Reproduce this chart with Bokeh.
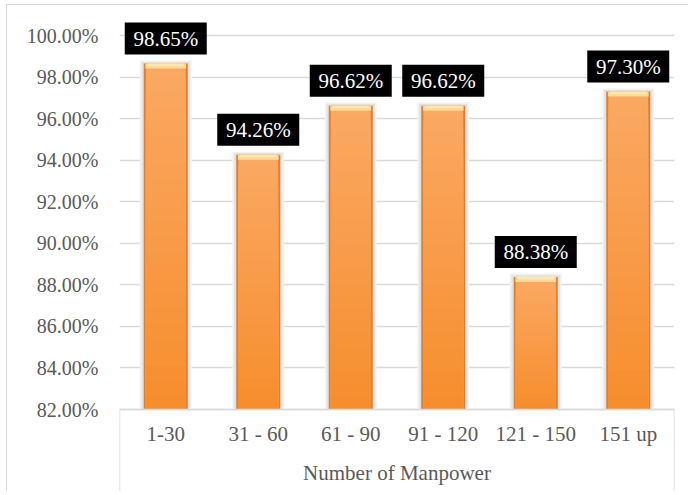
from bokeh.plotting import figure
from bokeh.models import (FactorRange, Range1d, ColumnDataSource, FixedTicker,
                          NumeralTickFormatter, LabelSet)
from bokeh.embed import file_html
from bokeh.resources import INLINE

# ---- data ----
group_name = "Number of Manpower"
categories = ["1-30", "31 - 60", "61 - 90", "91 - 120", "121 - 150", "151 up"]
values = [0.9865, 0.9426, 0.9662, 0.9662, 0.8838, 0.9730]
y_ticks = [0.82, 0.84, 0.86, 0.88, 0.90, 0.92, 0.94, 0.96, 0.98, 1.00]
y_min, y_max = 0.82, 1.00

FONT = "Liberation Serif"
GREY = "#D9D9D9"
factors = [(group_name, c) for c in categories]

PX = 374 / (y_max - y_min)          # pixels per unit on the value axis
ext_top = 30 / PX                   # room above 100% for the data labels
ext_bot = 83 / PX                   # room below 82% for the category axis

p = figure(width=682, height=487, output_backend="svg", toolbar_location=None,
           x_range=FactorRange(factors=factors, range_padding=0, factor_padding=0,
                               group_padding=0),
           y_range=Range1d(y_min - ext_bot, y_max + ext_top),
           min_border_left=112, min_border_right=15, min_border_top=0,
           min_border_bottom=0)
p.styles = {"margin-left": "6px", "margin-top": "4px",
            "border-left": "1.5px solid " + GREY, "border-top": "1.5px solid " + GREY}
p.outline_line_color = None
p.background_fill_color = "white"
p.border_fill_color = "white"

# grid / value axis
p.xgrid.grid_line_color = None
p.ygrid.grid_line_color = GREY
p.ygrid.grid_line_width = 1.3
p.yaxis.ticker = FixedTicker(ticks=y_ticks)
p.yaxis.formatter = NumeralTickFormatter(format="0.00%")
p.yaxis.axis_line_color = None
p.yaxis.major_tick_line_color = None
p.yaxis.minor_tick_line_color = None
p.yaxis.major_tick_out = 0
p.yaxis.major_label_standoff = 21
p.yaxis.major_label_text_font = FONT
p.yaxis.major_label_text_font_size = "20px"
p.yaxis.major_label_text_color = "#595959"

# category axis, fixed at 82%
p.xaxis.fixed_location = y_min
p.xaxis.axis_line_color = GREY
p.xaxis.axis_line_width = 1.5
p.xaxis.major_tick_line_color = None
p.xaxis.major_tick_out = 0
p.xaxis.major_label_standoff = 12
p.xaxis.major_label_text_font = FONT
p.xaxis.major_label_text_font_size = "21px"
p.xaxis.major_label_text_color = "#595959"
p.xaxis.group_text_font = FONT
p.xaxis.group_text_font_size = "21px"
p.xaxis.group_text_font_style = "normal"
p.xaxis.group_text_color = "#595959"

# vertical lines framing the category area
first = (group_name, categories[0], -0.5)
last = (group_name, categories[-1], 0.5)
p.segment(x0=[first, last], y0=[y_min - ext_bot] * 2, x1=[first, last], y1=[y_min] * 2,
          line_color=GREY, line_width=1.5)

# bars: soft shadow, darker edge, vertical gradient body, pale top cap
bottoms = [y_min] * len(values)
p.vbar(x=factors, top=[v + 0.0015 for v in values], bottom=bottoms, width=0.56,
       fill_color="#F1F1F1", line_color=None)
p.vbar(x=factors, top=[v + 0.0008 for v in values], bottom=bottoms, width=0.52,
       fill_color="#E2E2E2", line_color=None)
p.vbar(x=factors, top=values, bottom=bottoms, width=0.476,
       fill_color="#DC8036", line_color=None)

top_col = (250, 168, 98)
bot_col = (246, 141, 44)
N = 24
for i in range(N, 0, -1):
    t = i / N
    c = tuple(int(round(bot_col[k] + (top_col[k] - bot_col[k]) * t)) for k in range(3))
    col = "#%02X%02X%02X" % c
    p.vbar(x=factors, top=[y_min + (v - y_min) * t for v in values], bottom=bottoms,
           width=0.43, fill_color=col, line_color=None)

p.vbar(x=factors, top=values, bottom=[v - 0.0024 for v in values], width=0.44,
       fill_color="#FCDA98", line_color=None)
p.vbar(x=factors, top=values, bottom=[v - 0.0012 for v in values], width=0.40,
       fill_color="#FDE8B4", line_color=None)

# data labels: black boxes with white text
lab_y = [v + 25 / PX for v in values]
src = ColumnDataSource(dict(x=factors, y=lab_y,
                            txt=["%.2f%%" % (v * 100) for v in values]))
p.rect(x="x", y="y", width=82, height=32, width_units="screen", height_units="screen",
       source=src, fill_color="black", line_color=None)
p.add_layout(LabelSet(x="x", y="y", text="txt", source=src,
                      text_align="center", text_baseline="middle",
                      text_font=FONT, text_font_size="21px", text_color="white"))

open("out.html", "w").write(file_html(p, INLINE))
